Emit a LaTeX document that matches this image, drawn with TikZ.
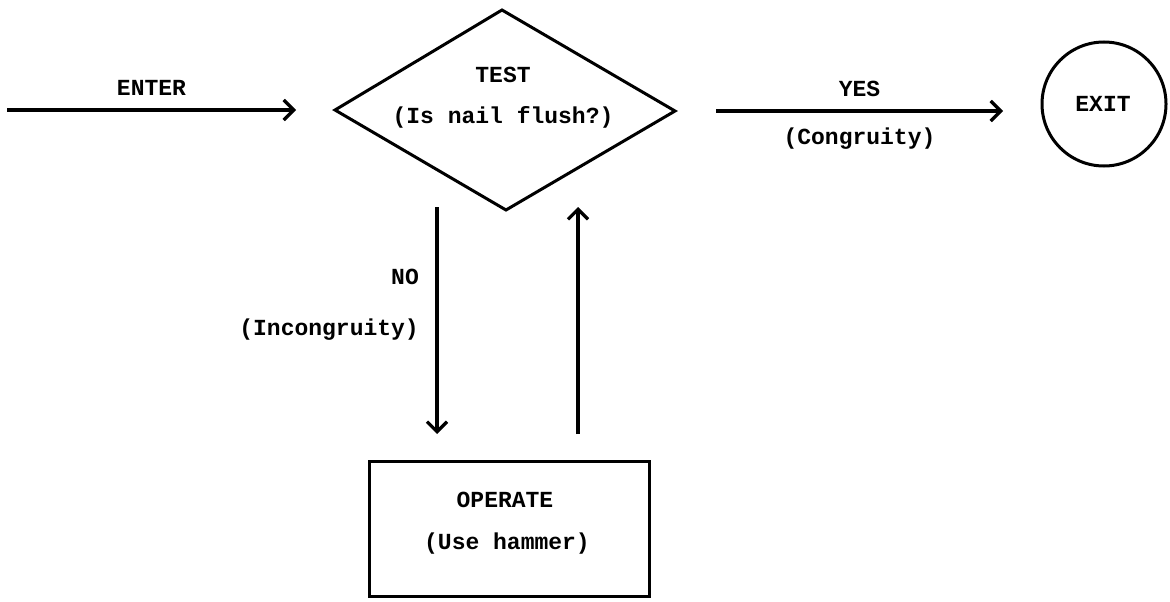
\documentclass[tikz,border=0pt]{standalone}
\usepackage{fontspec}
\setmonofont{Liberation Mono}
\usetikzlibrary{arrows.meta,shapes.geometric}
\begin{document}
\begin{tikzpicture}[x=1pt,y=-1pt,
  lbl/.style={font=\ttfamily\bfseries\fontsize{23}{26}\selectfont, inner sep=0pt},
  conn/.style={line width=3.2pt, -{Straight Barb[length=10pt,width=20pt,line width=3.2pt]}},
  shp/.style={draw, line width=3pt}]
\useasboundingbox (0,0) rectangle (1170,602);
% nodes
\coordinate (enterstart) at (7,110);
\coordinate (enterend) at (296,110);
\draw[shp, line join=miter] (335,110) coordinate (dl) -- (502,10) coordinate (dt) -- (675,111) coordinate (dr) -- (506,210) coordinate (db) -- cycle;
\node[lbl] (test) at (503,75) {TEST};
\node[lbl] (testq) at (503,117) {(Is nail flush?)};
\coordinate (yesstart) at (716,111);
\coordinate (yesend) at (1003,111);
\node[shp, circle, minimum size=124pt, inner sep=0pt] (exit) at (1104,104) {};
\node[lbl] (exitt) at (1103,104) {EXIT};
\node[shp, rectangle, minimum width=280pt, minimum height=135pt, anchor=north west] (op) at (368,460) {};
\node[lbl] (opt) at (505,500) {OPERATE};
\node[lbl] (opq) at (507,544) {(Use hammer)};
\coordinate (nostart) at (437,207);
\coordinate (noend) at (437,434);
\coordinate (upstart) at (578,434);
\coordinate (upend) at (578,207);
% connectors
\draw[conn] (enterstart) -- node[lbl, above=13pt] (enterl) {ENTER} (enterend);
\draw[conn] (yesstart) -- node[lbl, above=13pt] (yesl) {YES} node[lbl, below=15pt] (cong) {(Congruity)} (yesend);
\draw[conn] (nostart) -- (noend);
\draw[conn] (upstart) -- (upend);
\node[lbl, anchor=east] (nol) at (419,277) {NO};
\node[lbl, anchor=east] (incong) at (419,330) {(Incongruity)};
\end{tikzpicture}
\end{document}
